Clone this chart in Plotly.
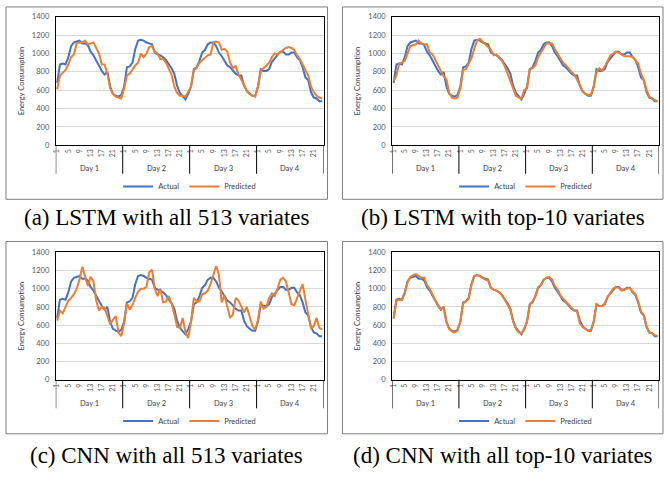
import plotly.graph_objects as go

W, H = 664, 483

days = ["Day 1", "Day 2", "Day 3", "Day 4"]
hour_labels = ["1", "5", "9", "13", "17", "21"]
hours_per_day = 24

actual = [
    680, 880, 890, 880, 960, 1080, 1120, 1130, 1140, 1110, 1110, 1090, 1020, 980, 920, 860, 810, 770, 800, 640, 560, 540, 530, 550,
    640, 850, 860, 900, 1050, 1140, 1150, 1140, 1120, 1110, 1100, 1010, 990, 980, 960, 930, 890, 840, 780, 650, 570, 530, 500, 560,
    640, 830, 850, 920, 1010, 1040, 1100, 1120, 1120, 1080, 1010, 970, 920, 870, 850, 810, 780, 760, 760, 650, 590, 560, 540, 540,
    640, 830, 810, 810, 830, 910, 950, 990, 1020, 1020, 990, 990, 1010, 1010, 960, 930, 850, 740, 710, 580, 520, 510, 480, 480,
]

pred_lstm_all = [
    610, 760, 790, 820, 880, 960, 990, 1110, 1120, 1120, 1140, 1100, 1110, 1120, 1060, 1000, 880, 880, 780, 620, 560, 530, 520, 510,
    620, 760, 780, 830, 870, 900, 1000, 960, 1000, 1070, 1080, 1020, 1000, 940, 940, 900, 840, 770, 640, 570, 540, 540, 530, 580,
    640, 820, 840, 900, 930, 960, 980, 990, 1120, 1130, 1120, 1040, 1050, 1020, 900, 840, 860, 770, 720, 660, 590, 560, 540, 530,
    640, 820, 840, 870, 900, 960, 1000, 990, 1020, 1040, 1060, 1070, 1060, 1040, 980, 940, 880, 820, 760, 640, 580, 540, 520, 510,
]

pred_lstm_top10 = [
    700, 760, 890, 900, 920, 1000, 1080, 1090, 1100, 1140, 1110, 1100, 1100, 1010, 990, 930, 860, 810, 750, 720, 570, 520, 510, 520,
    620, 820, 830, 900, 950, 1050, 1140, 1160, 1130, 1100, 1080, 1040, 980, 990, 950, 920, 860, 780, 700, 600, 540, 520, 510, 600,
    620, 830, 840, 870, 960, 1010, 1060, 1110, 1110, 1110, 1050, 1000, 960, 900, 870, 830, 800, 770, 720, 660, 590, 560, 550, 550,
    640, 800, 840, 810, 860, 920, 980, 1000, 1020, 1010, 990, 970, 970, 970, 960, 930, 890, 780, 710, 600, 530, 510, 490, 480,
]

pred_cnn_all = [
    650, 760, 730, 800, 870, 900, 940, 1000, 1100, 1240, 1120, 1030, 1130, 1080, 870, 760, 800, 790, 700, 610, 660, 700, 520, 480,
    620, 840, 770, 820, 900, 970, 1000, 1000, 1020, 1180, 1210, 1000, 920, 1000, 850, 860, 920, 840, 720, 580, 570, 680, 520, 460,
    640, 900, 860, 860, 940, 950, 980, 1050, 1150, 1250, 1150, 850, 930, 800, 680, 720, 900, 870, 800, 740, 800, 700, 590, 550,
    660, 860, 780, 800, 900, 950, 920, 1000, 1100, 1120, 1080, 960, 830, 820, 900, 960, 1050, 880, 720, 560, 590, 680, 570, 550,
]

pred_cnn_top10 = [
    670, 870, 880, 880, 950, 1070, 1130, 1150, 1160, 1140, 1120, 1120, 1040, 1000, 930, 870, 820, 780, 790, 630, 560, 530, 520, 540,
    640, 840, 860, 890, 1040, 1140, 1150, 1140, 1120, 1100, 1090, 1010, 990, 980, 960, 930, 880, 830, 770, 640, 560, 520, 510, 560,
    640, 830, 860, 920, 1020, 1040, 1100, 1120, 1130, 1100, 1030, 990, 930, 890, 860, 820, 790, 760, 750, 620, 580, 560, 540, 550,
    640, 830, 810, 810, 840, 910, 960, 1000, 1020, 1010, 980, 990, 1000, 1010, 970, 940, 860, 750, 710, 590, 520, 510, 490, 480,
]

y_titles = ["Energy Consumptoin", "Energy Consumption", "Energy Consumption", "Energy Consumption"]
captions = ["(a) LSTM with all 513 variates", "(b) LSTM with top-10 variates",
            "(c) CNN with all 513 variates", "(d) CNN with all top-10 variates"]
predictions = [pred_lstm_all, pred_lstm_top10, pred_cnn_all, pred_cnn_top10]

BLUE = "#4472C4"
ORANGE = "#ED7D31"
FONT = "Lato"

# panel geometry in pixels: (frame x0, x1, y0, y1), (plot x0, x1, y_top, y_bottom)
panels = [
    ((3, 326, 3, 199), (53, 322, 13, 144)),
    ((341, 663, 3, 199), (391, 659, 13, 144)),
    ((3, 326, 242, 438), (53, 322, 253, 383)),
    ((341, 663, 242, 438), (391, 659, 253, 383)),
]
caption_y = [218, 218, 460, 460]


def px(x):
    return x / W


def py(y):
    return 1 - y / H


n = len(actual)
xs = list(range(n))
tickvals = []
ticktext = []
for d in range(len(days)):
    for lab in hour_labels:
        tickvals.append(d * hours_per_day + int(lab) - 1)
        ticktext.append(lab)

fig = go.Figure()
shapes = []
annotations = []

for i, (frame, plot) in enumerate(panels):
    k = "" if i == 0 else str(i + 1)
    xa, ya = "x" + k, "y" + k
    leg = "legend" + k
    fig.add_trace(go.Scatter(x=xs, y=actual, mode="lines", name="Actual",
                             line=dict(color=BLUE, width=2), xaxis=xa, yaxis=ya,
                             legend=leg))
    fig.add_trace(go.Scatter(x=xs, y=predictions[i], mode="lines", name="Predicted",
                             line=dict(color=ORANGE, width=2), xaxis=xa, yaxis=ya,
                             legend=leg))
    fx0, fx1, fy0, fy1 = frame
    x0, x1, yt, yb = plot
    fig.update_layout(**{
        "xaxis" + k: dict(domain=[px(x0), px(x1)], range=[-0.5, n - 0.5],
                          tickvals=tickvals, ticktext=ticktext, tickangle=-90,
                          tickfont=dict(size=7, color="#595959", family=FONT),
                          showgrid=False, zeroline=False, showline=True,
                          linecolor="black", linewidth=1, mirror=True,
                          anchor=ya, ticks="", fixedrange=True),
        "yaxis" + k: dict(domain=[py(yb), py(yt)], range=[0, 1400], dtick=200,
                          tickfont=dict(size=7.5, color="#595959", family=FONT),
                          showgrid=True, gridcolor="#D9D9D9", gridwidth=1,
                          zeroline=False, showline=True, linecolor="black",
                          linewidth=1, mirror=True, anchor=xa, ticks="",
                          ticklabelstandoff=4,
                          title=dict(text=y_titles[i], standoff=6,
                                     font=dict(size=7.5, color="#404040", family=FONT)),
                          fixedrange=True),
        leg: dict(orientation="h", x=px((x0 + x1) / 2), y=py(fy1 - 13),
                  xanchor="center", yanchor="middle",
                  font=dict(size=7.5, color="#404040", family=FONT),
                  bgcolor="rgba(0,0,0,0)", itemwidth=30, tracegroupgap=0),
    })
    # panel frame
    shapes.append(dict(type="rect", xref="paper", yref="paper",
                       x0=px(fx0), x1=px(fx1), y0=py(fy1), y1=py(fy0),
                       line=dict(color="#7F7F7F", width=1), layer="below"))
    # day separators below axis
    for d in range(len(days) + 1):
        shapes.append(dict(type="line", xref=xa, yref="paper",
                           x0=d * hours_per_day - 0.5, x1=d * hours_per_day - 0.5,
                           y0=py(yb + 29), y1=py(yb),
                           line=dict(color="black", width=1)))
    for d, name in enumerate(days):
        annotations.append(dict(xref=xa, yref="paper",
                                x=d * hours_per_day + (hours_per_day - 1) / 2,
                                y=py(yb + 24), text=name, showarrow=False,
                                xanchor="center", yanchor="middle",
                                font=dict(size=7.5, color="#404040", family=FONT)))
    annotations.append(dict(xref="paper", yref="paper", x=px((fx0 + fx1) / 2),
                            y=py(caption_y[i]), text=captions[i], showarrow=False,
                            xanchor="center", yanchor="middle",
                            font=dict(size=23, color="black", family="Liberation Serif")))

fig.update_layout(width=W, height=H, margin=dict(l=0, r=0, t=0, b=0),
                  paper_bgcolor="white", plot_bgcolor="white",
                  shapes=shapes, annotations=annotations, showlegend=True)

fig.write_html("out.html", config={"displayModeBar": False},
               post_script="document.body.style.margin='0';document.body.style.overflow='hidden';")
